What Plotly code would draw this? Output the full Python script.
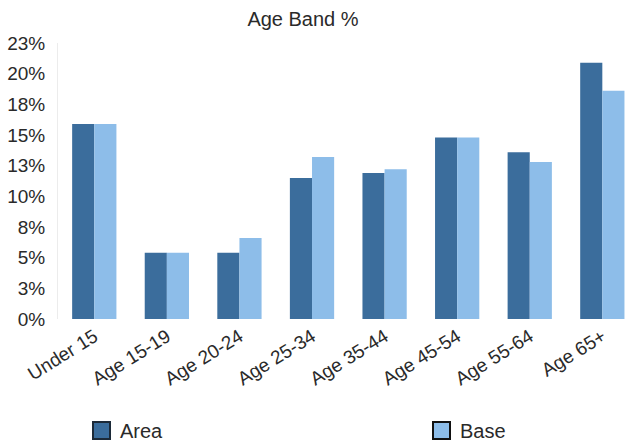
import plotly.graph_objects as go

# Age band shares (%) for the area and the comparison base
categories = ["Under 15", "Age 15-19", "Age 20-24", "Age 25-34",
              "Age 35-44", "Age 45-54", "Age 55-64", "Age 65+"]
area = [15.9, 5.4, 5.4, 11.5, 11.9, 14.8, 13.6, 20.9]
base = [15.9, 5.4, 6.6, 13.2, 12.2, 14.8, 12.8, 18.6]

y_ticks = [0, 2.5, 5, 7.5, 10, 12.5, 15, 17.5, 20, 22.5]
y_tick_text = ["0%", "3%", "5%", "8%", "10%", "13%", "15%", "18%", "20%", "23%"]

AREA_COLOR = "#3b6d9c"
BASE_COLOR = "#8dbde9"
TEXT_COLOR = "#2a2a2a"
FONT = "Liberation Sans, Arial, sans-serif"

W, H = 627, 444
L, R, T, B = 58, 0, 43, 125

fig = go.Figure()
fig.add_trace(go.Bar(name="Area", x=categories, y=area,
                     marker=dict(color=AREA_COLOR, line=dict(width=0))))
fig.add_trace(go.Bar(name="Base", x=categories, y=base,
                     marker=dict(color=BASE_COLOR, line=dict(width=0))))

plot_w = W - L - R
plot_h = H - T - B


def px_x(px):
    return (px - L) / plot_w


def px_y(py):
    return (H - B - py) / plot_h


# hand-drawn legend below the axis labels
legend_items = [("Area", AREA_COLOR, "#1c2a38", 93), ("Base", BASE_COLOR, "#111111", 433)]
shapes = []
annotations = []
for name, fill, edge, left in legend_items:
    shapes.append(dict(type="rect", xref="paper", yref="paper",
                       x0=px_x(left), x1=px_x(left + 17),
                       y0=px_y(439), y1=px_y(422),
                       fillcolor=fill, line=dict(color=edge, width=2)))
    annotations.append(dict(text=name, xref="paper", yref="paper",
                            x=px_x(left + 25), y=px_y(431),
                            xanchor="left", yanchor="middle", showarrow=False,
                            font=dict(family=FONT, size=20, color=TEXT_COLOR)))

fig.update_layout(
    width=W, height=H,
    margin=dict(l=L, r=R, t=T, b=B, pad=0),
    paper_bgcolor="white", plot_bgcolor="white",
    barmode="group", bargap=0.39, bargroupgap=0,
    showlegend=False,
    title=dict(text="Age Band %", x=303 / W, xanchor="center",
               y=1 - 19 / H, yanchor="middle",
               font=dict(family=FONT, size=20, color=TEXT_COLOR)),
    font=dict(family=FONT, size=19, color=TEXT_COLOR),
    shapes=shapes,
    annotations=annotations,
)
fig.update_xaxes(range=[-0.5, 7.34], tickangle=-32, showgrid=False,
                 showline=False, ticks="", ticklabelstandoff=2,
                 tickfont=dict(family=FONT, size=19, color=TEXT_COLOR))
fig.update_yaxes(range=[0, 22.5], tickvals=y_ticks, ticktext=y_tick_text,
                 showgrid=False, zeroline=False, showline=True,
                 linecolor="#ececec", linewidth=1, ticks="",
                 ticklabelstandoff=8,
                 tickfont=dict(family=FONT, size=19, color=TEXT_COLOR))

fig.write_html("out.html")
